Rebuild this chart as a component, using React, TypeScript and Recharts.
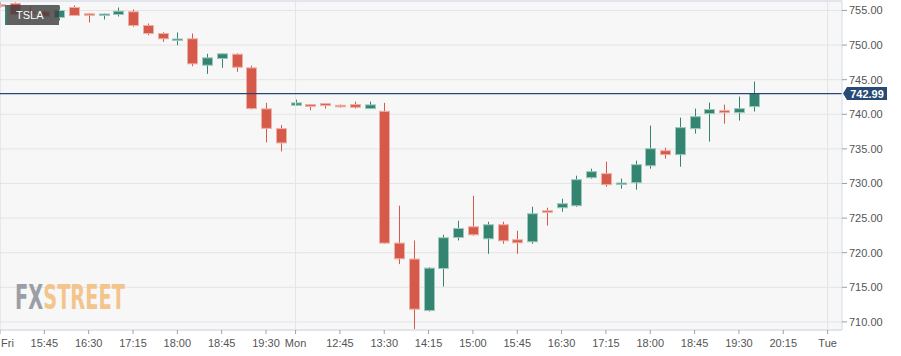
import React from 'react';
import { ComposedChart, Bar, XAxis, YAxis, CartesianGrid, ReferenceLine } from 'recharts';

const categories = [
  'Fri 15:00', 'Fri 15:15', 'Fri 15:30', 'Fri 15:45', 'Fri 16:00', 'Fri 16:15', 'Fri 16:30', 'Fri 16:45',
  'Fri 17:00', 'Fri 17:15', 'Fri 17:30', 'Fri 17:45', 'Fri 18:00', 'Fri 18:15', 'Fri 18:30', 'Fri 18:45',
  'Fri 19:00', 'Fri 19:15', 'Fri 19:30', 'Fri 19:45',
  'Mon 12:00', 'Mon 12:15', 'Mon 12:30', 'Mon 12:45', 'Mon 13:00', 'Mon 13:15', 'Mon 13:30', 'Mon 13:45',
  'Mon 14:00', 'Mon 14:15', 'Mon 14:30', 'Mon 14:45', 'Mon 15:00', 'Mon 15:15', 'Mon 15:30', 'Mon 15:45',
  'Mon 16:00', 'Mon 16:15', 'Mon 16:30', 'Mon 16:45', 'Mon 17:00', 'Mon 17:15', 'Mon 17:30', 'Mon 17:45',
  'Mon 18:00', 'Mon 18:15', 'Mon 18:30', 'Mon 18:45', 'Mon 19:00', 'Mon 19:15', 'Mon 19:30', 'Mon 19:45',
  'Mon 20:00', 'Mon 20:15', 'Mon 20:30', 'Mon 20:45', 'Mon 21:00',
];

const opens = [
  755.82, 756.01, 754.75, 754.86, 753.99, 755.43, 754.52, 754.35, 754.42, 754.81,
  752.83, 751.67, 750.76, 750.91, 747.09, 748.06, 748.68, 746.71, 740.78, 737.93,
  741.3, 741.4, 741.54, 741.3, 741.4, 740.82, 740.43, 721.39, 719.08, 711.64,
  717.72, 722.2, 723.75, 722.01, 724.04, 721.87, 721.58, 726.06, 726.5, 726.79,
  730.84, 731.42, 729.97, 730.11, 732.57, 734.74, 734.17, 737.93, 740.1, 740.53,
  740.24, 741.11,
];
const highs = [
  756.16, 756.16, 755.6, 755.0, 755.72, 755.72, 754.6, 754.55, 755.43, 755.14,
  753.12, 751.86, 751.82, 751.67, 748.74, 748.8, 748.8, 747.04, 741.65, 738.46,
  742.12, 741.47, 741.62, 741.4, 741.83, 741.83, 741.65, 726.79, 721.77, 717.9,
  722.59, 724.62, 728.23, 724.47, 724.47, 723.17, 726.64, 726.5, 727.8, 731.13,
  732.14, 733.15, 730.7, 733.3, 738.36, 735.18, 739.52, 740.82, 741.69, 741.4,
  742.56, 744.73,
];
const lows = [
  755.4, 754.28, 753.7, 754.0, 753.55, 754.2, 753.26, 753.7, 754.13, 752.64,
  751.43, 750.47, 749.98, 746.94, 745.84, 746.71, 746.13, 740.7, 735.95, 734.64,
  741.2, 740.58, 740.82, 740.97, 740.82, 740.8, 721.3, 718.35, 708.95, 711.5,
  715.11, 721.77, 722.45, 719.84, 721.29, 719.84, 721.29, 723.9, 725.92, 726.64,
  730.7, 729.54, 729.25, 729.1, 732.14, 733.59, 732.43, 737.21, 736.05, 738.65,
  739.09, 740.39,
];
const closes = [
  755.76, 754.42, 754.7, 754.13, 755.0, 754.28, 754.32, 754.49, 754.9, 752.83,
  751.67, 750.91, 750.88, 747.29, 748.16, 748.74, 746.8, 740.82, 737.97, 735.86,
  741.65, 741.15, 741.26, 741.21, 741.01, 741.36, 721.39, 719.12, 711.84, 717.77,
  722.16, 723.5, 722.59, 724.04, 721.72, 721.43, 725.63, 725.82, 727.08, 730.55,
  731.71, 729.83, 730.07, 732.72, 735.03, 734.17, 738.07, 739.66, 740.69, 740.24,
  740.82, 742.99,
];

const tickCategories = [
  'Fri 15:00', 'Fri 15:45', 'Fri 16:30', 'Fri 17:15', 'Fri 18:00', 'Fri 18:45', 'Fri 19:30',
  'Mon 12:00', 'Mon 12:45', 'Mon 13:30', 'Mon 14:15', 'Mon 15:00', 'Mon 15:45', 'Mon 16:30',
  'Mon 17:15', 'Mon 18:00', 'Mon 18:45', 'Mon 19:30', 'Mon 20:15', 'Mon 21:00',
];
const tickLabels = [
  'Fri', '15:45', '16:30', '17:15', '18:00', '18:45', '19:30',
  'Mon', '12:45', '13:30', '14:15', '15:00', '15:45', '16:30',
  '17:15', '18:00', '18:45', '19:30', '20:15', 'Tue',
];
const dayBoundaries = ['Mon 12:00', 'Mon 21:00'];
const yTicks = [710, 715, 720, 725, 730, 735, 740, 745, 750, 755];
const yDomain = [708.83, 756.37];
const lastPrice = 742.99;
const symbol = 'TSLA';
const brand = 'FXSTREET';

const GREEN = '#338571';
const GREEN_LIGHT = '#9fc8bd';
const RED = '#d55a49';
const RED_LIGHT = '#eeb0a6';
const FONT = '"Liberation Sans", Arial, sans-serif';

const data = categories.map((c, i) => ({
  t: c,
  open: opens[i],
  high: highs[i],
  low: lows[i],
  close: closes[i],
  range: opens[i] == null ? null : [lows[i], highs[i]],
}));

const Candle = (props: any) => {
  const { x, y, width, height, payload } = props;
  if (!payload || payload.open == null) return null;
  const { open, close, high, low } = payload;
  const top0 = Math.min(y, y + height);
  const h = Math.abs(height);
  const ppu = high - low > 0 ? h / (high - low) : 0;
  const yOf = (v: number) => top0 + (high - v) * ppu;
  const up = close >= open;
  const color = up ? GREEN : RED;
  const light = up ? GREEN_LIGHT : RED_LIGHT;
  const cx = Math.round(x + width / 2) + 0.5;
  const bt = yOf(Math.max(open, close));
  const bb = yOf(Math.min(open, close));
  const bh = Math.max(bb - bt, 1.5);
  return (
    <g>
      <line x1={cx} x2={cx} y1={top0} y2={top0 + h} stroke={color} strokeWidth={1} />
      <rect x={cx - 5} y={bt} width={10} height={bh} fill={color} stroke={light} strokeWidth={1} />
    </g>
  );
};

const XTick = (props: any) => {
  const { x, y, payload } = props;
  const k = tickCategories.indexOf(payload.value);
  if (k < 0) return null;
  const first = k === 0;
  return (
    <g>
      <line x1={x} x2={x} y1={y} y2={y + 4} stroke="#9aa0aa" strokeWidth={1} />
      <text
        x={first ? 1 : x}
        y={y + 17}
        textAnchor={first ? 'start' : 'middle'}
        fill="#555"
        fontSize={11}
        fontFamily={FONT}
      >
        {tickLabels[k]}
      </text>
    </g>
  );
};

const PriceTag = (props: any) => {
  const vb = props.viewBox || {};
  const xr = vb.x + vb.width;
  const yc = vb.y;
  const pts = `${xr + 1},${yc} ${xr + 5},${yc - 6.5} ${xr + 45},${yc - 6.5} ${xr + 45},${yc + 6.5} ${xr + 5},${yc + 6.5}`;
  return (
    <g>
      <polygon points={pts} fill="#264a73" />
      <text x={xr + 25} y={yc + 4} textAnchor="middle" fill="#fff" fontSize={11} fontWeight="bold" fontFamily={FONT}>
        {lastPrice.toFixed(2)}
      </text>
    </g>
  );
};

export default function App() {
  return (
    <div style={{ position: 'absolute', left: 0, top: 0, width: 901, height: 356, background: '#fff', overflow: 'hidden' }}>
      <ComposedChart
        width={901}
        height={356}
        data={data}
        margin={{ top: 1, right: 0, bottom: 0, left: -7.39 }}
      >
        <CartesianGrid vertical={false} stroke="#e4e4e4" fill="#f7f7f7" fillOpacity={1} />
        <XAxis
          dataKey="t"
          type="category"
          interval={0}
          height={26}
          tickSize={0}
          tickMargin={0}
          tickLine={false}
          tick={<XTick />}
          axisLine={{ stroke: '#d3dae8' }}
          padding={{ left: 0, right: 7 }}
        />
        <YAxis
          orientation="right"
          domain={yDomain}
          allowDataOverflow
          ticks={yTicks}
          tickFormatter={(v: number) => v.toFixed(2)}
          width={59}
          tickSize={5}
          tickMargin={2}
          tick={{ fill: '#555', fontSize: 11, fontFamily: FONT }}
          tickLine={{ stroke: '#9aa0aa' }}
          axisLine={{ stroke: '#d3dae8' }}
        />
        <ReferenceLine x={categories[0]} stroke="#d3dae8" />
        {dayBoundaries.map((d) => (
          <ReferenceLine key={d} x={d} stroke="#e4e4e4" />
        ))}
        <ReferenceLine y={yDomain[1]} stroke="#d3dae8" />
        <Bar dataKey="range" barSize={11} shape={<Candle />} isAnimationActive={false} />
        <ReferenceLine y={lastPrice} stroke="#284873" strokeWidth={1.2} label={<PriceTag />} />
      </ComposedChart>
      <div
        style={{
          position: 'absolute', left: 5, top: 5, width: 54, height: 20,
          background: 'rgba(64,64,64,0.82)', borderLeft: `2px solid ${GREEN}`,
          color: '#fff', fontFamily: FONT, fontSize: 11, lineHeight: '20px', paddingLeft: 9, boxSizing: 'border-box',
        }}
      >
        {symbol}
      </div>
      <svg width={901} height={356} style={{ position: 'absolute', left: 0, top: 0, pointerEvents: 'none' }}>
        <defs>
          <linearGradient id="brandFill" gradientUnits="userSpaceOnUse" x1={15} y1={0} x2={125} y2={0}>
            <stop offset="0.26" stopColor="#9b9ea6" />
            <stop offset="0.26" stopColor="#f3c48c" />
          </linearGradient>
        </defs>
        <text
          x={15}
          y={309}
          fontSize={33}
          fontWeight="bold"
          fill="url(#brandFill)"
          fontFamily='"DejaVu Sans Condensed", "DejaVu Sans", sans-serif'
          textLength={110}
          lengthAdjust="spacingAndGlyphs"
        >
          {brand}
        </text>
      </svg>
    </div>
  );
}
